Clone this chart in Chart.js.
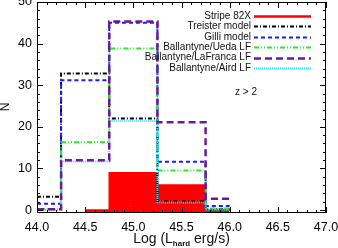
<!DOCTYPE html>
<html>
<head>
<meta charset="utf-8">
<script src="https://cdn.jsdelivr.net/npm/chart.js@4.4.0/dist/chart.umd.min.js"></script>
<style>
  body { margin: 0; background: #fff; }
  canvas { display: block; }
</style>
</head>
<body>
<canvas id="histChart" width="338" height="248"></canvas>
<script>
// bin edges (log L_hard) and counts per bin
const binEdges = [44.0, 44.25, 44.75, 45.25, 45.75, 46.0];
const treister = [3.2, 32.8, 22.0, 2.1, 0.2];
const gilli = [1.5, 31.2, 45.0, 11.6, 1.0];
const uedaLF = [0.2, 16.3, 38.8, 9.5, 0.4];
const laFrancaLF = [0.2, 12.0, 45.3, 21.1, 2.7];
const airdLF = [0.1, 11.7, 21.4, 1.8, 0.1];

const stripeEdges = [44.5, 44.75, 45.25, 45.75, 46.0];
const stripe82x = [0, 9, 6, 0];

const xTicks = [44.0, 44.5, 45.0, 45.5, 46.0, 46.5, 47.0];
const yTicks = [0, 10, 20, 30, 40, 50];

const FONT = 'Liberation Sans';

function steps(edges, vals) {
    return edges.map((e, i) => ({x: e, y: vals[Math.min(i, vals.length - 1)]}));
}

const series = [
    {label: 'Stripe 82X', color: '#ff0000', dash: [], width: 2.5, order: 10},
    {label: 'Treister model', color: '#000000', dash: [4, 2, 1, 2], width: 2, order: 5, vals: treister},
    {label: 'Gilli model', color: '#1a1aff', dash: [4, 3], width: 2, order: 4, vals: gilli},
    {label: 'Ballantyne/Ueda LF', color: '#22ee22', dash: [5, 2, 1, 2, 1, 2], width: 2, order: 3, vals: uedaLF},
    {label: 'Ballantyne/LaFranca LF', color: '#6a1a9a', dash: [7, 4], width: 2.5, order: 1, vals: laFrancaLF},
    {label: 'Ballantyne/Aird LF', color: '#33ddff', dash: [1, 1], width: 2, order: 2, vals: airdLF},
];

const datasets = series.map(s => {
    if (!s.vals) {
        return {
            label: s.label,
            data: steps(stripeEdges, stripe82x),
            stepped: true,
            borderColor: s.color,
            backgroundColor: s.color,
            borderWidth: 1.5,
            fill: 'start',
            pointRadius: 0,
            pointHoverRadius: 0,
            order: s.order,
        };
    }
    return {
        label: s.label,
        data: steps(binEdges, s.vals),
        stepped: true,
        borderColor: s.color,
        borderDash: s.dash,
        borderWidth: s.width,
        fill: false,
        pointRadius: 0,
        pointHoverRadius: 0,
        order: s.order,
    };
});

// IDL style frame: inward ticks on all four sides, legend and labels
const idlFrame = {
    id: 'idlFrame',
    afterDraw(chart) {
        const ctx = chart.ctx;
        const a = chart.chartArea;
        const xs = chart.scales.x;
        const ys = chart.scales.y;
        ctx.save();
        ctx.strokeStyle = '#000';
        ctx.lineWidth = 1;
        ctx.setLineDash([]);
        ctx.strokeRect(a.left + 0.5, a.top + 0.5, a.right - a.left - 1, a.bottom - a.top - 1);

        ctx.beginPath();
        for (let k = 0; k <= 30; k++) {
            const v = 44 + k * 0.1;
            const px = Math.round(xs.getPixelForValue(v)) + 0.5;
            const len = (k % 5 === 0) ? 6 : 3;
            ctx.moveTo(px, a.bottom); ctx.lineTo(px, a.bottom - len);
            ctx.moveTo(px, a.top); ctx.lineTo(px, a.top + len);
        }
        for (let v = 0; v <= 50; v += 2) {
            const py = Math.round(ys.getPixelForValue(v)) + 0.5;
            const len = (v % 10 === 0) ? 6 : 3;
            ctx.moveTo(a.left, py); ctx.lineTo(a.left + len, py);
            ctx.moveTo(a.right, py); ctx.lineTo(a.right - len, py);
        }
        ctx.stroke();

        // legend
        ctx.font = '10px ' + FONT;
        ctx.fillStyle = '#111';
        ctx.textAlign = 'right';
        ctx.textBaseline = 'middle';
        series.forEach((s, i) => {
            const y = 16 + i * 10.4;
            ctx.fillText(s.label, 251, y);
            ctx.beginPath();
            ctx.strokeStyle = s.color;
            ctx.lineWidth = s.width;
            ctx.setLineDash(s.dash);
            ctx.moveTo(254, Math.round(y) + 0.5);
            ctx.lineTo(311, Math.round(y) + 0.5);
            ctx.stroke();
        });
        ctx.setLineDash([]);

        ctx.textAlign = 'center';
        ctx.fillText('z > 2', 246, 92);

        // x title with subscript
        const main = '14px ' + FONT;
        const sub = 'bold 8px ' + FONT;
        const p1 = 'Log (L', p2 = 'hard', p3 = ' erg/s)';
        ctx.font = main;
        const w1 = ctx.measureText(p1).width, w3 = ctx.measureText(p3).width;
        ctx.font = sub;
        const w2 = ctx.measureText(p2).width;
        let x0 = (a.left + a.right) / 2 - (w1 + w2 + w3) / 2;
        ctx.textAlign = 'left';
        ctx.textBaseline = 'alphabetic';
        ctx.font = main;
        ctx.fillText(p1, x0, 243);
        ctx.font = sub;
        ctx.fillText(p2, x0 + w1, 246);
        ctx.font = main;
        ctx.fillText(p3, x0 + w1 + w2, 243);

        // y title
        ctx.translate(6, 107);
        ctx.rotate(-Math.PI / 2);
        ctx.textAlign = 'center';
        ctx.textBaseline = 'middle';
        ctx.font = '12px ' + FONT;
        ctx.fillText('N', 0, 0);
        ctx.restore();
    }
};

const config = {
    type: 'line',
    data: {datasets: datasets},
    options: {
        responsive: false,
        animation: false,
        layout: {autoPadding: false, padding: {top: 2, right: 12, left: 0, bottom: 0}},
        plugins: {
            legend: {display: false},
            tooltip: {enabled: false},
        },
        scales: {
            x: {
                type: 'linear',
                min: 44,
                max: 47,
                afterFit(scale) {
                    scale.height = 35;
                    scale.paddingLeft = 0;
                    scale.paddingRight = 0;
                },
                afterBuildTicks(scale) { scale.ticks = xTicks.map(v => ({value: v})); },
                grid: {display: false, drawTicks: false},
                border: {display: false},
                ticks: {
                    color: '#000',
                    padding: 7,
                    maxRotation: 0,
                    autoSkip: false,
                    font: {size: 12.5, family: FONT},
                    callback: v => v.toFixed(1),
                },
            },
            y: {
                min: -0.7,
                max: 50,
                afterFit(scale) {
                    scale.width = 37;
                    scale.paddingTop = 0;
                    scale.paddingBottom = 0;
                },
                afterBuildTicks(scale) { scale.ticks = yTicks.map(v => ({value: v})); },
                grid: {display: false, drawTicks: false},
                border: {display: false},
                ticks: {
                    color: '#000',
                    padding: 5,
                    font: {size: 12.5, family: FONT},
                },
            },
        },
    },
    plugins: [idlFrame],
};

const histChart = new Chart(document.getElementById('histChart'), config);
</script>
</body>
</html>
